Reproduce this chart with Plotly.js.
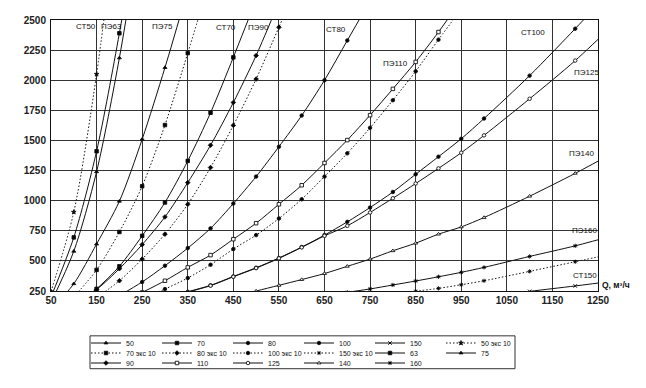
<!DOCTYPE html>
<html>
<head>
<meta charset="utf-8">
<script src="https://cdn.plot.ly/plotly-3.0.1.min.js"></script>
<style>html,body{margin:0;padding:0;background:#fff;}#chart{width:646px;height:388px;}</style>
</head>
<body>
<div id="chart"></div>
<script>
// ---- data (Q, м3/ч  vs  value) ----
const q_st50 = [50, 100, 150, 200, 250];
const v_st50 = [155, 580, 1240, 2185, 3340];
const q_st70 = [100, 150, 200, 250, 300, 350, 400, 450, 500];
const v_st70 = [125, 268, 455, 708, 985, 1330, 1730, 2190, 2670];
const q_st80 = [200, 250, 300, 350, 400, 450, 500, 550, 600, 650, 700, 750];
const v_st80 = [212, 325, 460, 606, 770, 976, 1200, 1448, 1707, 2000, 2330, 2660];
const q_st100 = [300, 350, 400, 450, 500, 550, 600, 650, 700, 750, 800, 850, 900, 950, 1000, 1100, 1200, 1250];
const v_st100 = [180, 243, 297, 371, 443, 524, 615, 714, 824, 943, 1072, 1219, 1365, 1514, 1682, 2038, 2428, 2630];
const q_st150 = [1000, 1100, 1200, 1300];
const v_st150 = [200, 247, 292, 340];
const q_e50 = [50, 100, 150, 200];
const v_e50 = [245, 905, 2050, 3540];
const q_e70 = [100, 150, 200, 250, 300, 350, 400];
const v_e70 = [200, 425, 740, 1120, 1628, 2225, 2850];
const q_e80 = [150, 200, 250, 300, 350, 400, 450, 500, 550, 600];
const v_e80 = [194, 335, 515, 722, 970, 1275, 1625, 2010, 2440, 2880];
const q_e100 = [250, 300, 350, 400, 450, 500, 550, 600, 650, 700, 750, 800, 850, 900, 950];
const v_e100 = [189, 266, 358, 468, 598, 714, 852, 1012, 1200, 1393, 1605, 1834, 2074, 2337, 2590];
const q_e150 = [850, 900, 950, 1000, 1100, 1200, 1300];
const v_e150 = [248, 272, 302, 335, 413, 493, 574];
const q_pe63 = [50, 100, 150, 200, 250];
const v_pe63 = [200, 695, 1410, 2390, 3500];
const q_pe75 = [50, 100, 150, 200, 250, 300, 350];
const v_pe75 = [95, 310, 640, 995, 1510, 2105, 2750];
const q_pe90 = [100, 150, 200, 250, 300, 350, 400, 450, 500, 550];
const v_pe90 = [140, 262, 435, 635, 865, 1150, 1460, 1815, 2205, 2650];
const q_pe110 = [250, 300, 350, 400, 450, 500, 550, 600, 650, 700, 750, 800, 850, 900, 950];
const v_pe110 = [238, 335, 446, 548, 680, 813, 970, 1128, 1313, 1503, 1710, 1928, 2152, 2400, 2665];
const q_pe125 = [300, 350, 400, 450, 500, 550, 600, 650, 700, 750, 800, 850, 900, 950, 1000, 1100, 1200, 1300];
const v_pe125 = [178, 240, 294, 368, 440, 521, 612, 708, 791, 902, 1020, 1142, 1268, 1398, 1542, 1846, 2163, 2520];
const q_pe140 = [450, 500, 550, 600, 650, 700, 750, 800, 850, 900, 950, 1000, 1100, 1200, 1300];
const v_pe140 = [205, 250, 297, 345, 395, 455, 515, 584, 647, 722, 782, 860, 1037, 1227, 1430];
const q_pe160 = [600, 650, 700, 750, 800, 850, 900, 950, 1000, 1100, 1200, 1300];
const v_pe160 = [178, 208, 239, 267, 300, 333, 368, 405, 446, 537, 625, 727];

const seriesNames = ['50', '70', '80', '100', '150', '50 экс 10',
                     '70 экс 10', '80 экс 10', '100 экс 10', '150 экс 10', '63', '75',
                     '90', '110', '125', '140', '160'];
const xTicks = [50, 150, 250, 350, 450, 550, 650, 750, 850, 950, 1050, 1150, 1250];
const yTicks = [250, 500, 750, 1000, 1250, 1500, 1750, 2000, 2250, 2500];
const labelText = ['СТ50', 'ПЭ63', 'ПЭ75', 'СТ70', 'ПЭ90', 'СТ80', 'ПЭ110', 'СТ100', 'ПЭ125', 'ПЭ140', 'ПЭ160', 'СТ150'];
const labelQ = [127, 183, 294, 434, 506, 675, 805, 1108, 1225, 1214, 1221, 1221];
const labelV = [2445, 2445, 2445, 2440, 2440, 2420, 2135, 2400, 2065, 1390, 750, 377];

// ---- styling ----
const DOT = '1.5px,2px';
const series = [
  [q_st50, v_st50, 'solid', 'triangle-up', '#000', 'legend'],
  [q_st70, v_st70, 'solid', 'square', '#000', 'legend'],
  [q_st80, v_st80, 'solid', 'circle', '#000', 'legend'],
  [q_st100, v_st100, 'solid', 'circle', '#000', 'legend'],
  [q_st150, v_st150, 'solid', 'x-thin-open', '#000', 'legend'],
  [q_e50, v_e50, DOT, 'star', '#000', 'legend'],
  [q_e70, v_e70, DOT, 'square', '#000', 'legend2'],
  [q_e80, v_e80, DOT, 'diamond', '#000', 'legend2'],
  [q_e100, v_e100, DOT, 'circle', '#000', 'legend2'],
  [q_e150, v_e150, DOT, 'asterisk-open', '#000', 'legend2'],
  [q_pe63, v_pe63, 'solid', 'square', '#000', 'legend2'],
  [q_pe75, v_pe75, 'solid', 'triangle-up', '#000', 'legend2'],
  [q_pe90, v_pe90, 'solid', 'diamond', '#000', 'legend3'],
  [q_pe110, v_pe110, 'solid', 'square', '#fff', 'legend3'],
  [q_pe125, v_pe125, 'solid', 'circle', '#fff', 'legend3'],
  [q_pe140, v_pe140, 'solid', 'triangle-up', '#fff', 'legend3'],
  [q_pe160, v_pe160, 'solid', 'asterisk-open', '#000', 'legend3']
];

const traces = series.map((s, i) => ({
  type: 'scatter', mode: 'lines+markers',
  x: s[0], y: s[1], name: seriesNames[i], legend: s[5],
  line: {color: '#111', width: 1, dash: s[2], shape: 'spline', smoothing: 0.8},
  marker: {symbol: s[3], size: 3.5, color: s[4], line: {color: '#111', width: 0.9}}
}));

const FONT = 'Liberation Sans, Arial, sans-serif';
const annotations = labelText.map((t, i) => ({
  x: labelQ[i], y: labelV[i], xref: 'x', yref: 'y', text: t, showarrow: false,
  xanchor: 'center', yanchor: 'middle', font: {family: FONT, size: 8, color: '#111'}
}));
annotations.push({x: 1, xref: 'paper', y: 300, yref: 'y', xanchor: 'left', yanchor: 'middle',
  xshift: 2, text: 'Q, м³/ч', showarrow: false, font: {family: FONT, size: 8.5, color: '#111', weight: 'bold'}});

function legendRow(py) {
  return {orientation: 'h', x: (86 - 51) / 547, xanchor: 'left', y: (292 - py) / 272, yanchor: 'middle',
    bgcolor: 'rgba(0,0,0,0)', borderwidth: 0, entrywidth: 26, entrywidthmode: 'pixels', itemwidth: 30,
    font: {family: FONT, size: 7, color: '#111'}, tracegroupgap: 0, itemclick: false};
}

const layout = {
  width: 646, height: 388,
  margin: {l: 51, r: 48, t: 20, b: 96},
  paper_bgcolor: '#fff', plot_bgcolor: '#fff',
  showlegend: true,
  legend: legendRow(343), legend2: legendRow(353), legend3: legendRow(363),
  xaxis: {range: [50, 1250], tickvals: xTicks, ticktext: xTicks.map(String), showgrid: true,
    gridcolor: '#333', gridwidth: 1, zeroline: false, showline: true, mirror: true, linecolor: '#111', linewidth: 1,
    ticks: '', tickfont: {family: FONT, size: 10, color: '#222', weight: 'bold'}},
  yaxis: {range: [250, 2500], tickvals: yTicks, ticktext: yTicks.map(String), showgrid: true,
    gridcolor: '#333', gridwidth: 1, zeroline: false, showline: true, mirror: true, linecolor: '#111', linewidth: 1,
    ticks: '', ticklabelstandoff: 2, tickfont: {family: FONT, size: 10, color: '#222', weight: 'bold'}},
  annotations: annotations,
  shapes: [{type: 'rect', xref: 'paper', yref: 'paper', x0: (90 - 51) / 547, x1: (515 - 51) / 547,
    y0: (292 - 370) / 272, y1: (292 - 337) / 272, line: {color: '#333', width: 1}}]
};

Plotly.newPlot('chart', traces, layout, {displayModeBar: false, staticPlot: true});
</script>
</body>
</html>
